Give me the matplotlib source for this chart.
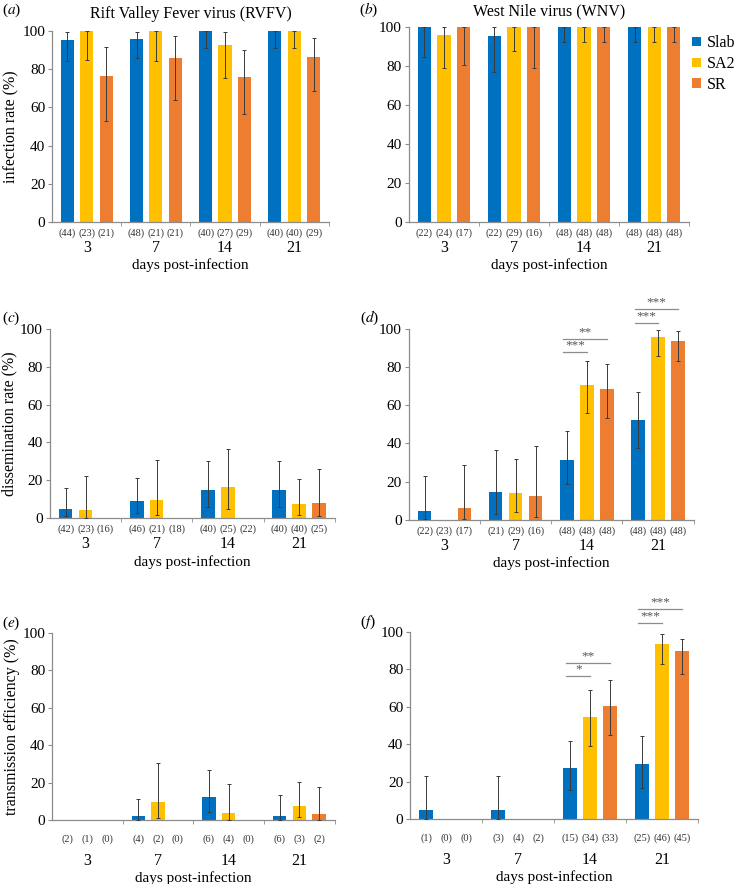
import numpy as np
import matplotlib
matplotlib.use('Agg')
import matplotlib.pyplot as plt
from matplotlib.patches import Patch

plt.rcParams['font.family'] = ['Liberation Serif', 'DejaVu Serif']
plt.rcParams['mathtext.fontset'] = 'stix'

days = ['3', '7', '14', '21']
strains = ['Slab', 'SA2', 'SR']
colors = ['#0070C0', '#FFC000', '#ED7D31']

# rows: Slab, SA2, SR ; columns: day 3, 7, 14, 21
# (a) RVFV infection rate
inf_rvfv = [[95.5, 96, 100, 100], [100, 100, 92.5, 100], [76.3, 85.7, 75.8, 86.2]]
inf_rvfv_lo = [[84.5, 85.7, 91.3, 91.3], [85, 84, 75.6, 91.3], [52.6, 63.6, 56.4, 68.3]]
inf_rvfv_hi = [[99.6, 99.7, 100, 100], [100, 100, 99.3, 100], [91.8, 97.4, 90, 96.2]]
inf_rvfv_n = [[44, 48, 40, 40], [23, 21, 27, 40], [21, 21, 29, 29]]

# (b) WNV infection rate
inf_wnv = [[100, 95.5, 100, 100], [96, 100, 100, 100], [100, 100, 100, 100]]
inf_wnv_lo = [[84.6, 77.2, 92.6, 92.6], [78.9, 88, 92.6, 92.6], [80.6, 79.2, 92.6, 92.6]]
inf_wnv_hi = [[100, 100, 100, 100], [100, 100, 100, 100], [100, 100, 100, 100]]
inf_wnv_n = [[22, 22, 48, 48], [24, 29, 48, 48], [17, 16, 48, 48]]

# (c) RVFV dissemination rate
dis_rvfv = [[4.9, 8.8, 15, 15], [4.4, 9.7, 16.2, 7.6], [0, 0, 0, 8.1]]
dis_rvfv_lo = [[0.9, 2.5, 5.6, 5.6], [0.1, 1.4, 4.8, 1.6], [0, 0, 0, 0.9]]
dis_rvfv_hi = [[15.9, 21, 30, 30], [22, 30.7, 36.3, 20.6], [0, 0, 0, 26.1]]
dis_rvfv_n = [[42, 46, 40, 40], [23, 21, 25, 40], [16, 18, 22, 25]]

# (d) WNV dissemination rate
dis_wnv = [[4.6, 14.3, 31.1, 52.1], [0, 13.8, 70.8, 95.8], [6.1, 12.4, 68.7, 93.7]]
dis_wnv_lo = [[0.2, 3, 18.7, 37.4], [0, 4, 55.8, 85.7], [0.2, 1.6, 53.5, 82.9]]
dis_wnv_hi = [[22.7, 36.5, 46.3, 67], [0, 31.6, 83.2, 99.5], [28.8, 38.5, 81.8, 98.8]]
dis_wnv_n = [[22, 21, 48, 48], [23, 29, 48, 48], [17, 16, 48, 48]]

# (e) RVFV transmission efficiency
tra_rvfv = [[0, 2.1, 12.5, 2.3], [0, 9.5, 3.6, 7.5], [0, 0, 0, 3.2]]
tra_rvfv_lo = [[0, 0.1, 4.1, 0.1], [0, 0.9, 0.1, 1.4], [0, 0, 0, 0.1]]
tra_rvfv_hi = [[0, 11.1, 26.8, 13.4], [0, 30.4, 19.1, 20.5], [0, 0, 0, 17.7]]
tra_rvfv_n = [[2, 4, 6, 6], [1, 2, 4, 3], [0, 0, 0, 2]]

# (f) WNV transmission efficiency
tra_wnv = [[4.6, 4.6, 27.2, 29.4], [0, 0, 54.4, 93.8], [0, 0, 60.3, 89.7]]
tra_wnv_lo = [[0.1, 0.1, 15.5, 16.7], [0, 0, 39.1, 82.7], [0, 0, 45, 77.4]]
tra_wnv_hi = [[22.8, 22.8, 42, 44.3], [0, 0, 68.9, 98.8], [0, 0, 74.6, 96.4]]
tra_wnv_n = [[1, 3, 15, 25], [0, 4, 34, 46], [0, 2, 33, 45]]

# significance brackets: (day index, compared strain index, height, stars)
sig_d = [(2, 1, 87.8, '***'), (2, 2, 94.8, '**'), (3, 1, 103, '***'), (3, 2, 110.5, '***')]
sig_f = [(2, 1, 76.3, '*'), (2, 2, 83.5, '**'), (3, 1, 105, '***'), (3, 2, 112.5, '***')]

offsets = [-0.28, 0.0, 0.28]
width = 0.19
gray = '#8c8c8c'

fig = plt.figure(figsize=(7.34, 8.84), dpi=100)


def draw_panel(rect, vals, lo, hi, ns, n_off, day_pad, ylabel=None, title=None, sig=None):
    ax = fig.add_axes(rect)
    x = np.arange(len(days))
    for i in range(3):
        xi = x + offsets[i]
        ax.bar(xi, vals[i], width, color=colors[i], zorder=2)
        for j in range(len(days)):
            v = vals[i][j]
            if v > 0:
                ax.errorbar(xi[j], v, yerr=[[v - lo[i][j]], [hi[i][j] - v]], fmt='none',
                            ecolor='#3a3a3a', elinewidth=0.7, capsize=1.5, capthick=0.7,
                            zorder=3, clip_on=False)
            ax.annotate('(%d)' % ns[i][j], xy=(xi[j], 0), xycoords=('data', 'axes fraction'),
                        xytext=(0, n_off), textcoords='offset points',
                        ha='center', va='center', fontsize=7.5, color='#333333')
    ax.set_xlim(-0.5, 3.5)
    ax.set_ylim(0, 100)
    ax.set_yticks([0, 20, 40, 60, 80, 100])
    ax.set_xticks(x)
    ax.set_xticklabels(days, fontsize=11.5)
    ax.set_xticks([0.5, 1.5, 2.5, 3.5], minor=True)
    ax.tick_params(axis='x', which='major', length=0, pad=day_pad)
    ax.tick_params(axis='x', which='minor', length=3, color=gray)
    ax.tick_params(axis='y', labelsize=11, length=3, color=gray, pad=2)
    for s in ['top', 'right']:
        ax.spines[s].set_visible(False)
    for s in ['left', 'bottom']:
        ax.spines[s].set_color(gray)
        ax.spines[s].set_linewidth(0.9)
    ax.set_xlabel('days post-infection', fontsize=11, labelpad=2)
    if ylabel:
        ax.set_ylabel(ylabel, fontsize=11.5, labelpad=2)
    if title:
        ax.set_title(title, fontsize=11.5, pad=9)
    if sig:
        for d, k, h, stars in sig:
            x0 = d + offsets[0] - 0.05
            x1 = d + offsets[k]
            ax.plot([x0, x1], [h, h], color=gray, lw=0.9, clip_on=False)
            ax.text((x0 + x1) / 2, h + 0.3, stars, ha='center', va='bottom',
                    fontsize=9.5, color='#555555', clip_on=False)
    return ax


draw_panel([0.071, 0.749, 0.377, 0.216], inf_rvfv, inf_rvfv_lo, inf_rvfv_hi, inf_rvfv_n,
           -8, 13, ylabel='infection rate (%)', title='Rift Valley Fever virus (RVFV)')
axb = draw_panel([0.557, 0.749, 0.382, 0.220], inf_wnv, inf_wnv_lo, inf_wnv_hi, inf_wnv_n,
                 -8, 13, title='West Nile virus (WNV)')
draw_panel([0.068, 0.414, 0.388, 0.214], dis_rvfv, dis_rvfv_lo, dis_rvfv_hi, dis_rvfv_n,
           -8, 13, ylabel='dissemination rate (%)')
draw_panel([0.557, 0.412, 0.388, 0.216], dis_wnv, dis_wnv_lo, dis_wnv_hi, dis_wnv_n,
           -8, 13, sig=sig_d)
draw_panel([0.071, 0.0724, 0.385, 0.2116], tra_rvfv, tra_rvfv_lo, tra_rvfv_hi, tra_rvfv_n,
           -13.5, 23.5, ylabel='transmission efficiency (%)')
draw_panel([0.559, 0.0735, 0.392, 0.2115], tra_wnv, tra_wnv_lo, tra_wnv_hi, tra_wnv_n,
           -13.5, 23.5, sig=sig_f)

# panel letters
letters = ['a', 'b', 'c', 'd', 'e', 'f']
letter_xy = [(2, 10), (359, 10), (2, 318), (360, 318), (2, 623), (360, 622)]
for lt, (px, py) in zip(letters, letter_xy):
    fig.text(px / 734, 1 - py / 884, '(' + r'$\it{%s}$' % lt + ')', fontsize=11,
             ha='left', va='center')

handles = [Patch(facecolor=c, label=s) for c, s in zip(colors, strains)]
axb.legend(handles=handles, loc='upper left', bbox_to_anchor=(1.01, 0.96), frameon=False,
           fontsize=11.5, handlelength=0.55, handleheight=0.55, handletextpad=0.35,
           labelspacing=0.3, borderaxespad=0, borderpad=0)

fig.savefig('out.png', dpi=100)
